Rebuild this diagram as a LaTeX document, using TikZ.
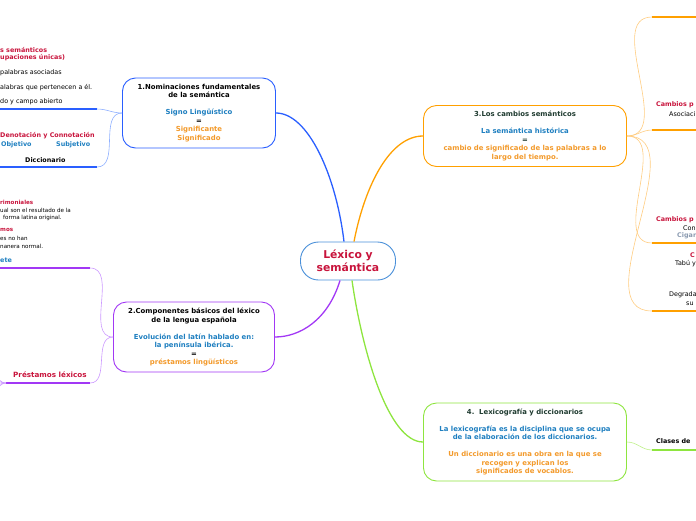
\documentclass[tikz,border=0pt]{standalone}
\usepackage{fontspec}
\setmainfont{DejaVu Sans}
\usepackage{xcolor}
\usetikzlibrary{positioning}
\definecolor{crimson}{HTML}{C8143C}
\definecolor{txtblue}{HTML}{1E7FC0}
\definecolor{txtorange}{HTML}{F39A2B}
\definecolor{darkteal}{HTML}{1F3B30}
\definecolor{rootblue}{HTML}{4A90D9}
\definecolor{nomblue}{HTML}{2A5FFF}
\definecolor{nomlight}{HTML}{8FB0FF}
\definecolor{purp}{HTML}{A238F5}
\definecolor{purplight}{HTML}{CC99FF}
\definecolor{orng}{HTML}{FFA000}
\definecolor{orlight}{HTML}{FFCC80}
\definecolor{lime}{HTML}{8EE53F}
\definecolor{limelight}{HTML}{BFF08A}
\definecolor{cigar}{HTML}{8A9AB0}

\begin{document}
\begin{tikzpicture}[
  x=1pt, y=-1pt,
  topic/.style={rectangle, rounded corners=13pt, draw, line width=0.9pt, fill=white,
                align=center, font=\fontsize{6.9}{8.5}\selectfont\bfseries, inner sep=0pt},
  link/.style={line width=1.3pt},
  twig/.style={line width=0.6pt},
  uline/.style={line width=1.6pt},
  frag/.style={anchor=west, inner sep=0pt, font=\fontsize{6.4}{7}\selectfont},
  fragb/.style={frag, font=\fontsize{6.4}{7}\selectfont\bfseries},
  tiny/.style={anchor=west, inner sep=0pt, font=\fontsize{5.6}{6}\selectfont},
  tinyb/.style={tiny, font=\fontsize{5.6}{6}\selectfont\bfseries}
]
\useasboundingbox (0,0) rectangle (696,520);
\clip (0,0) rectangle (696,520);

% central topic
\node[topic, draw=rootblue, rounded corners=18pt, minimum width=95pt, minimum height=38pt,
      font=\fontsize{10.8}{13}\selectfont\bfseries, text=crimson] (lexico) at (348,261)
  {Léxico y\\semántica};

% main topics
\node[topic, draw=nomblue, minimum width=153pt, minimum height=70pt] (nomin) at (199,113)
  {1.Nominaciones fundamentales\\de la semántica\\[8.5pt]
   \textcolor{txtblue}{Signo Lingüístico}\\=\\
   \textcolor{txtorange}{Significante}\\\textcolor{txtorange}{Significado}};
\node[topic, draw=purp, minimum width=161pt, minimum height=70pt] (compon) at (194,337)
  {2.Componentes básicos del léxico\\de la lengua española\\[8.5pt]
   \textcolor{txtblue}{Evolución del latín hablado en:}\\
   \textcolor{txtblue}{la península ibérica.}\\=\\
   \textcolor{txtorange}{préstamos lingüísticos}};
\node[topic, draw=orng, minimum width=203pt, minimum height=61pt, text=darkteal] (cambios) at (525,136)
  {3.Los cambios semánticos\\[8.5pt]
   \textcolor{txtblue}{La semántica histórica}\\=\\
   \textcolor{txtorange}{cambio de significado de las palabras a lo}\\
   \textcolor{txtorange}{largo del tiempo.}};
\node[topic, draw=lime, minimum width=203pt, minimum height=78pt, text=darkteal] (lexicog) at (525,442)
  {4.\ \ Lexicografía y diccionarios\\[8.5pt]
   \textcolor{txtblue}{La lexicografía es la disciplina que se ocupa}\\
   \textcolor{txtblue}{de la elaboración de los diccionarios.}\\[8.5pt]
   \textcolor{txtorange}{Un diccionario es una obra en la que se}\\
   \textcolor{txtorange}{recogen y explican los}\\
   \textcolor{txtorange}{significados de vocablos.}};

% links from the centre
\draw[link, nomblue] ([xshift=-4pt]lexico.north) .. controls (336,175) and (308,113) .. (nomin.east);
\draw[link, orng] ([xshift=6pt]lexico.north) .. controls (365,185) and (390,136) .. (cambios.west);
\draw[link, purp] ([xshift=-8pt]lexico.south) .. controls (328,320) and (300,337) .. (compon.east);
\draw[link, lime] ([xshift=4pt]lexico.south) .. controls (362,350) and (388,442) .. (lexicog.west);

% branches of topic 1
\coordinate (semend) at (97,109);
\coordinate (dicend) at (97,167);
\draw[twig, nomlight] (nomin.west) to[out=180,in=0] (semend);
\draw[twig, nomlight] (nomin.west) to[out=180,in=0] (dicend);
\draw[uline, nomblue] (semend) -- (-5,109);
\draw[uline, nomblue] (dicend) -- (-5,167);
\node[fragb, text=crimson] (camposa) at (0,50) {s semánticos};
\node[fragb, text=crimson] (camposb) at (0,58) {upaciones únicas)};
\node[frag] (asoc) at (0,73) {palabras asociadas};
\node[frag] (perten) at (0,88) {alabras que pertenecen a él.};
\node[frag] (abierto) at (0,102) {do y campo abierto};
\node[fragb, text=crimson] (denot) at (0,136) {Denotación y Connotación};
\node[fragb, text=txtblue] (objet) at (1,145) {Objetivo};
\node[fragb, text=txtblue] (subjet) at (56,145) {Subjetivo};
\node[fragb] (dicc) at (25,160) {Diccionario};

% branches of topic 2
\coordinate (eteend) at (90,268);
\coordinate (presend) at (90,383);
\coordinate (presfan) at (6,383);
\draw[twig, purplight] (compon.west) to[out=180,in=0] (eteend);
\draw[twig, purplight] (compon.west) to[out=180,in=0] (presend);
\draw[uline, purp] (eteend) -- (-5,268);
\draw[uline, purp] (presend) -- (presfan);
\foreach \fy in {368,377,389,400}
  \draw[twig, purplight] (presfan) to[out=180,in=0] (-14,\fy);
\node[tinyb, text=crimson] (patrim) at (0,202) {rimoniales};
\node[tiny] (resul) at (0,210) {ual son el resultado de la};
\node[tiny] (latina) at (3,218) {forma latina original.};
\node[tinyb, text=crimson] (cultis) at (0,230) {mos};
\node[tiny] (nohan) at (0,238) {es no han};
\node[tiny] (normal) at (0,246) {nanera normal.};
\node[fragb, text=txtblue] (ete) at (0,260) {ete};
\node[fragb, text=crimson, font=\fontsize{7.2}{8}\selectfont\bfseries] (prest) at (13,375) {Préstamos léxicos};

% branches of topic 3
\coordinate (camone) at (652,17);
\coordinate (camtwo) at (652,130);
\coordinate (camthree) at (652,243);
\coordinate (camfour) at (652,311);
\foreach \c/\cy in {camone/17, camtwo/130, camthree/243, camfour/311} {
  \draw[twig, orlight] (cambios.east) to[out=0,in=180] (\c);
  \draw[uline, orng] (\c) -- (700,\cy);
}
\node[fragb, text=crimson] (cpa) at (656,105) {Cambios p};
\node[frag] (asocia) at (669,114) {Asociaci};
\node[fragb, text=crimson] (cpb) at (656,220) {Cambios p};
\node[frag] (con) at (683,228) {Con};
\node[fragb, text=cigar] (cig) at (677,236) {Cigar};
\node[fragb, text=crimson] (cpc) at (690,255) {C};
\node[frag] (tabu) at (675,264) {Tabú y};
\node[frag] (degr) at (669,295) {Degrada};
\node[frag] (su) at (686,304) {su};

% branch of topic 4
\coordinate (clasend) at (652,450);
\draw[twig, limelight] (lexicog.east) to[out=0,in=180] (clasend);
\draw[uline, lime] (clasend) -- (700,450);
\node[fragb] (clases) at (656,441) {Clases de};
\end{tikzpicture}
\end{document}
